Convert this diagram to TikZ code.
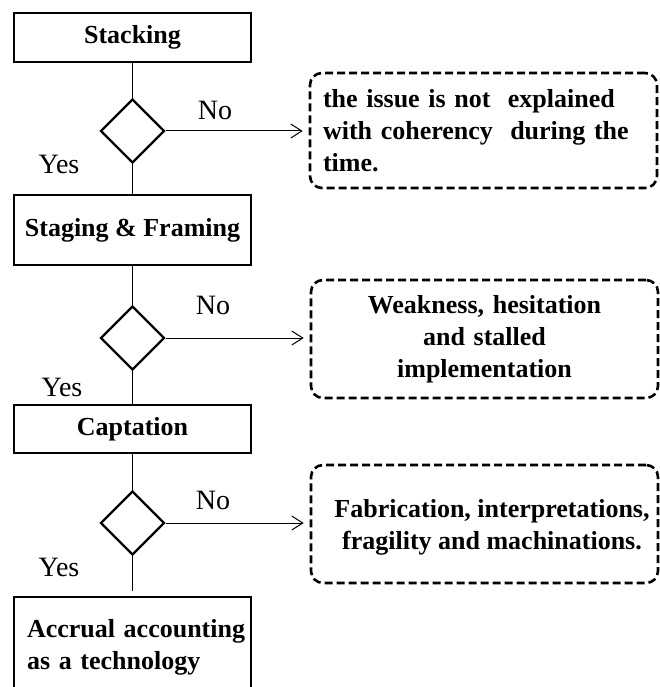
\documentclass[tikz,border=0pt]{standalone}
\usepackage{fontspec}
\setmainfont{Liberation Serif}
\usetikzlibrary{shapes.geometric,arrows.meta}
\begin{document}
\begin{tikzpicture}[x=1pt,y=-1pt,
  stagebox/.style={draw, line width=2.6pt, minimum width=237pt, inner sep=0pt,
    font=\bfseries\fontsize{26}{32}\selectfont},
  decision/.style={draw, diamond, line width=2.4pt, minimum width=64pt,
    minimum height=64pt, inner sep=0pt, aspect=1},
  outcome/.style={draw, line width=2.6pt, dash pattern=on 8pt off 4pt,
    rounded corners=12pt, inner xsep=13pt, text width=321pt,
    font=\bfseries\fontsize{26}{32}\selectfont},
  outtext/.style={inner sep=0pt, align=center,
    font=\bfseries\fontsize{26}{32}\selectfont},
  link/.style={line width=1pt},
  noarrow/.style={link, -{Straight Barb[length=11pt,width=14pt,line width=1pt]},
    shorten >=6pt},
  answer/.style={font=\fontsize{28}{32}\selectfont, inner sep=0pt}
]
\useasboundingbox (0,0) rectangle (659,687);

% main chain of stages
\node[stagebox, minimum height=49pt] (s1) at (132.5,37.5) {Stacking};
\node[decision] (d1) at (132.5,131) {};
\node[stagebox, minimum height=70pt] (s2) at (132.5,230) {Staging \& Framing};
\node[decision] (d2) at (132.5,338) {};
\node[stagebox, minimum height=48pt] (s3) at (132.5,429) {Captation};
\node[decision] (d3) at (132.5,523) {};
\node[stagebox, minimum height=100pt, text width=211pt, inner xsep=13pt,
  align=left] (s4) at (132.5,647)
  {\mbox{Accrual accounting}\\\mbox{as a technology}};

% outcomes of a negative answer
\node[outcome, minimum height=115pt, align=left] (o1) at (483.5,130.5)
  {the issue is not\ \ explained\\with coherency\ \ during the\\time.};
\node[outcome, minimum height=118pt, align=center] (o2) at (484.5,339)
  {Weakness, hesitation\\and stalled\\implementation};
\node[outcome, minimum height=118pt] (o3) at (484.5,524) {};
\node[outtext] (o3t) at (492,527)
  {Fabrication, interpretations,\\fragility and machinations.};

% connectors
\draw[link] (s1) -- (d1);
\draw[link] (d1) -- (s2);
\draw[link] (s2) -- (d2);
\draw[link] (d2) -- (s3);
\draw[link] (s3) -- (d3);
\draw[link, shorten >=5pt] (d3) -- (s4);

\draw[noarrow] (d1.east) -- (d1.east -| o1.west);
\draw[noarrow] (d2.east) -- (d2.east -| o2.west);
\draw[noarrow] (d3.east) -- (d3.east -| o3.west);

% answer labels
\node[answer] (n1) at (215,110) {No};
\node[answer] (y1) at (59,164) {Yes};
\node[answer] (n2) at (213,305) {No};
\node[answer] (y2) at (62,387) {Yes};
\node[answer] (n3) at (213,500) {No};
\node[answer] (y3) at (59,567) {Yes};
\end{tikzpicture}
\end{document}
